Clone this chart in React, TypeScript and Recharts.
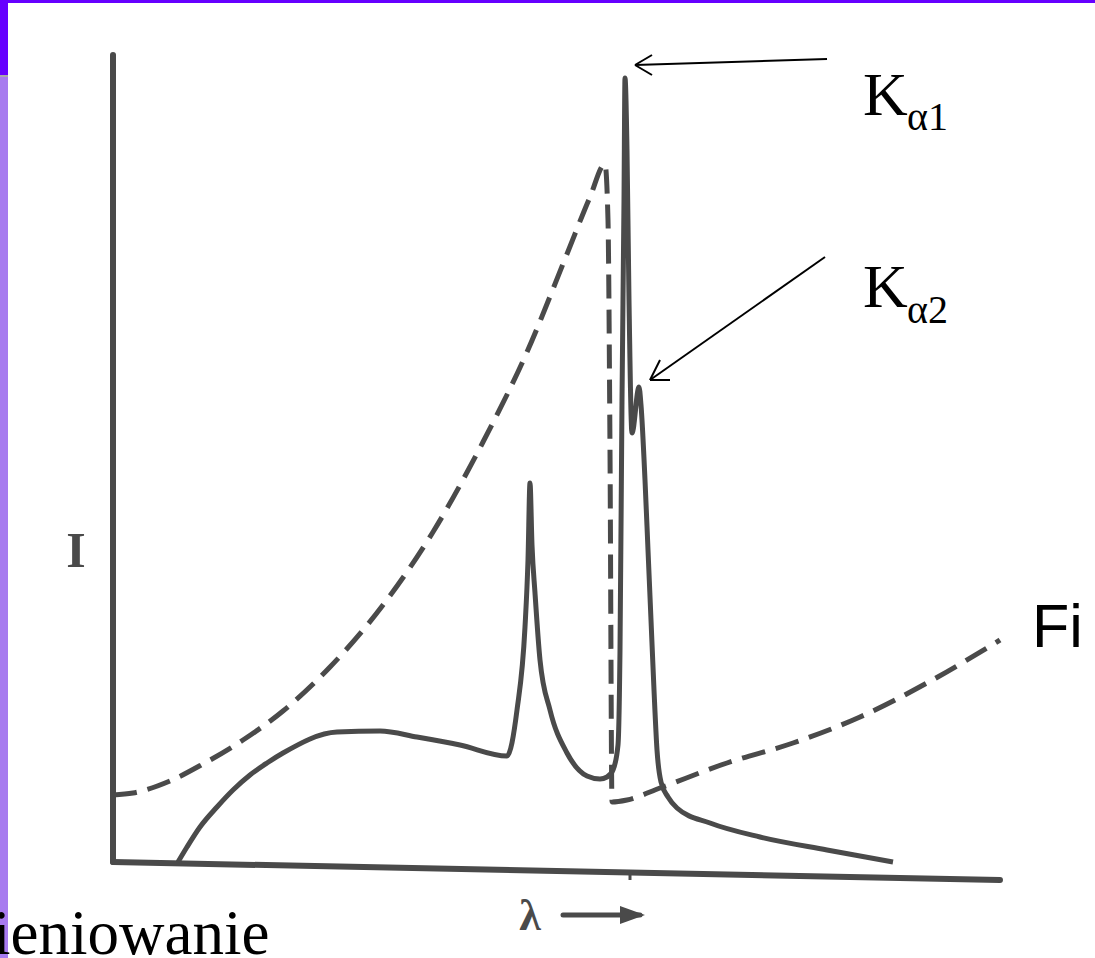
import { LineChart, Line, XAxis, YAxis, ReferenceLine } from 'recharts'

const WIDTH = 1095
const HEIGHT = 958
const INK = '#4a4a4a'

// measured spectrum with the characteristic lines (solid), arbitrary units
const solidLambda = [
  6.5, 7.4, 8.7, 10.4, 12.0, 13.7, 15.4, 17.0, 22.4, 26.7, 30.4, 34.7, 39.4,
  40.4, 41.2, 41.5, 41.7, 41.9, 42.2, 42.7, 43.7, 45.4, 47.4, 48.7, 49.4, 50.0,
  50.5, 50.7, 50.9, 51.1, 51.2, 51.4, 51.6, 51.9, 52.6, 52.8, 53.2, 53.5, 53.8,
  54.1, 54.4, 54.8, 55.5, 56.4, 59.7, 64.7, 71.4, 78.0,
]
const solidIntensity = [
  0, 1.5, 3.5, 5.5, 7.2, 8.7, 9.9, 10.9, 13.0, 13.1, 12.5, 11.7, 10.6, 15.2,
  23.5, 30.2, 37.9, 31.7, 26.9, 20.2, 15.2, 10.9, 8.6, 8.3, 8.5, 9.2, 11.7,
  21.2, 46.2, 66.2, 78.4, 71.2, 56.2, 42.9, 47.5, 45.7, 38.2, 31.2, 24.2, 17.2,
  11.2, 8.0, 6.5, 5.4, 3.9, 2.5, 1.2, 0,
]

// filtered / absorption curve (dashed)
const dashedLambda = [
  0, 2.0, 5.7, 9.0, 13.0, 17.0, 21.7, 27.0, 32.0, 37.0, 41.4, 45.4, 47.7, 49.2,
  49.5, 49.7, 49.9, 51.4, 54.7, 61.4, 68.0, 74.7, 81.4, 88.7,
]
const dashedIntensity = [
  6.7, 6.9, 8.1, 9.8, 12.2, 15.1, 19.5, 25.7, 33.0, 42.0, 51.0, 60.8, 66.5,
  69.8, 64.2, 41.2, 6.0, 6.2, 7.4, 9.9, 11.9, 14.5, 17.9, 22.2,
]

const solidData = solidLambda.map((x, i) => ({ x, y: solidIntensity[i] }))
const dashedData = dashedLambda.map((x, i) => ({ x, y: dashedIntensity[i] }))

const serif = "'Liberation Serif', 'Times New Roman', Times, serif"
const sans = "'Liberation Sans', Arial, sans-serif"

export default function App() {
  return (
    <div
      style={{
        position: 'absolute',
        left: 0,
        top: 0,
        width: WIDTH,
        height: HEIGHT,
        background: '#fff',
        overflow: 'hidden',
      }}>
      <LineChart
        width={WIDTH}
        height={HEIGHT}
        margin={{ top: 52, left: 113, right: 82, bottom: 76 }}>
        <XAxis type="number" dataKey="x" domain={[0, 90]} hide allowDataOverflow />
        <YAxis type="number" dataKey="y" domain={[-2, 81]} hide allowDataOverflow />

        {/* axes as drawn on the scan */}
        <ReferenceLine
          segment={[{ x: 0, y: 80.7 }, { x: 0, y: 0 }]}
          stroke={INK}
          strokeWidth={6}
          strokeLinecap="round"
          ifOverflow="visible"
        />
        <ReferenceLine
          segment={[{ x: 0, y: 0 }, { x: 88.7, y: -1.8 }]}
          stroke={INK}
          strokeWidth={6}
          strokeLinecap="round"
          ifOverflow="visible"
        />
        <ReferenceLine
          segment={[{ x: 51.7, y: -1.0 }, { x: 51.7, y: -1.8 }]}
          stroke={INK}
          strokeWidth={3}
          ifOverflow="visible"
        />

        <Line
          data={dashedData}
          dataKey="y"
          type="monotone"
          stroke={INK}
          strokeWidth={5}
          strokeDasharray="24 11"
          dot={false}
          isAnimationActive={false}
        />
        <Line
          data={solidData}
          dataKey="y"
          type="monotone"
          stroke={INK}
          strokeWidth={5}
          dot={false}
          isAnimationActive={false}
        />

        {/* K alpha 1 arrow */}
        <ReferenceLine segment={[{ x: 71.4, y: 80.3 }, { x: 52.2, y: 79.7 }]} stroke="#000" strokeWidth={2} ifOverflow="visible" />
        <ReferenceLine segment={[{ x: 52.2, y: 79.7 }, { x: 53.9, y: 80.7 }]} stroke="#000" strokeWidth={2} ifOverflow="visible" />
        <ReferenceLine segment={[{ x: 52.2, y: 79.7 }, { x: 53.9, y: 78.7 }]} stroke="#000" strokeWidth={2} ifOverflow="visible" />
        {/* K alpha 2 arrow */}
        <ReferenceLine segment={[{ x: 71.2, y: 60.5 }, { x: 53.7, y: 48.2 }]} stroke="#000" strokeWidth={2} ifOverflow="visible" />
        <ReferenceLine segment={[{ x: 53.7, y: 48.2 }, { x: 55.7, y: 48.2 }]} stroke="#000" strokeWidth={2} ifOverflow="visible" />
        <ReferenceLine segment={[{ x: 53.7, y: 48.2 }, { x: 54.7, y: 50.2 }]} stroke="#000" strokeWidth={2} ifOverflow="visible" />
      </LineChart>

      <svg
        width={WIDTH}
        height={HEIGHT}
        style={{ position: 'absolute', left: 0, top: 0, pointerEvents: 'none' }}>
        {/* slide frame */}
        <rect x={0} y={0} width={WIDTH} height={3} fill="#6600ff" />
        <rect x={0} y={0} width={8} height={75} fill="#6600ff" />
        <rect x={0} y={75} width={8} height={2} fill="#aaaaaa" />
        <rect x={0} y={77} width={8} height={HEIGHT - 77} fill="#a77bef" />

        <g style={{ fontFamily: serif }} fill="#000">
          <text x={863} y={115} fontSize={62}>K</text>
          <text x={907} y={130} fontSize={40}>α1</text>
          <text x={863} y={307} fontSize={62}>K</text>
          <text x={907} y={323} fontSize={40}>α2</text>
          <text x={-7} y={954} fontSize={63}>ieniowanie</text>
          <text x={76} y={567} textAnchor="middle" fontSize={50} fontWeight="bold" fill={INK}>I</text>
          <text x={530} y={930} textAnchor="middle" fontSize={44} fontWeight="bold" fill={INK}>λ</text>
        </g>
        <text x={1032} y={647} style={{ fontFamily: sans }} fontSize={61} fill="#000">Fi</text>

        <line x1={563} y1={915} x2={640} y2={915} stroke={INK} strokeWidth={5} strokeLinecap="round" />
        <path d="M620,906 L645,915 L620,924 Z" fill={INK} />
      </svg>
    </div>
  )
}
